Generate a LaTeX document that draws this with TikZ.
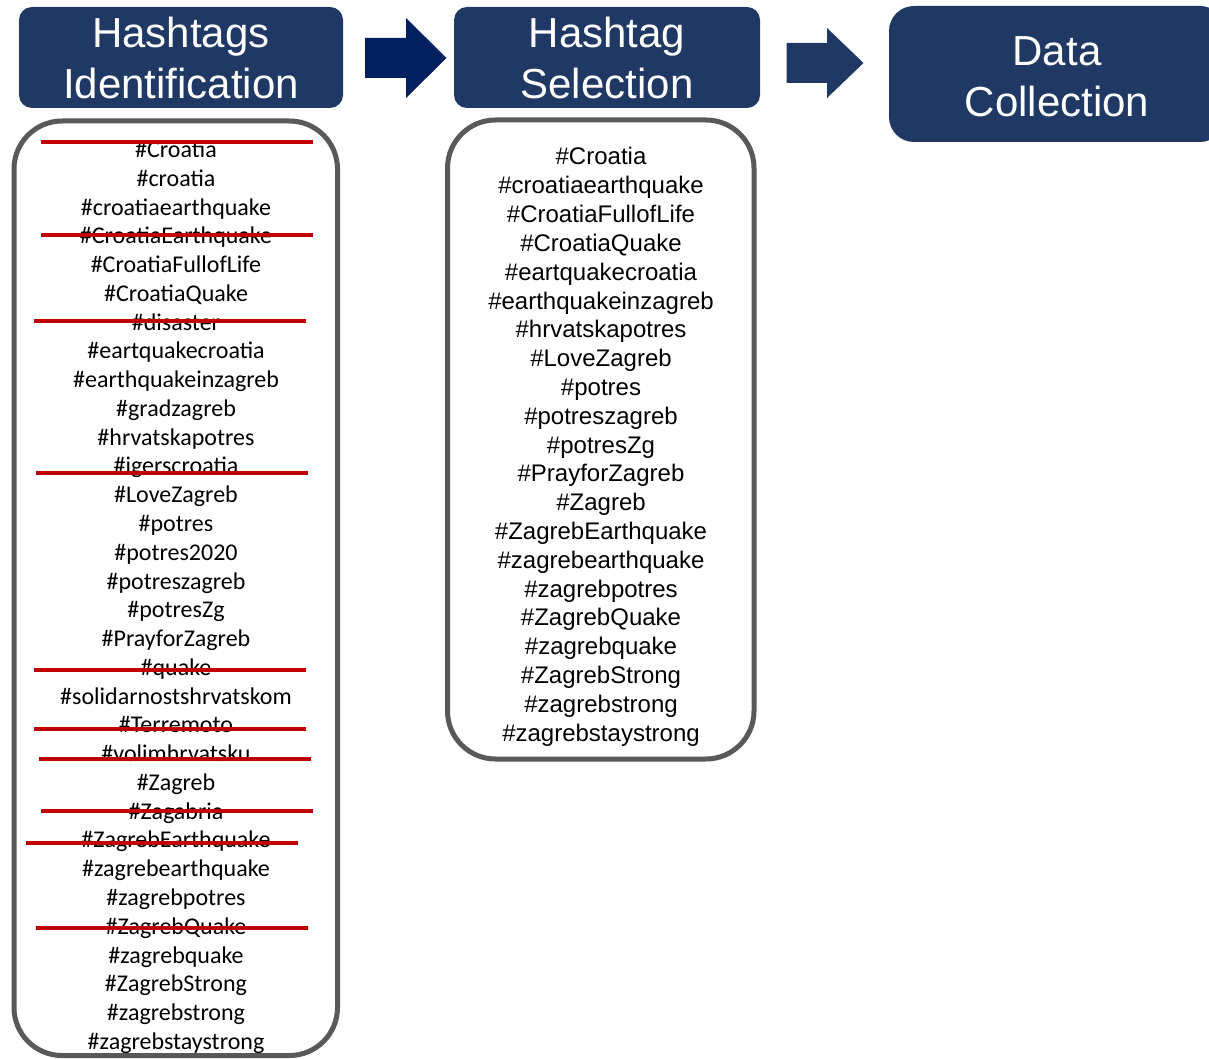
\documentclass[tikz,border=0pt]{standalone}
\usepackage{fontspec}
\newfontfamily\arialf{Liberation Sans}
\newfontfamily\calibrif{Carlito}
\definecolor{hdrblue}{HTML}{203864}
\definecolor{arrowdark}{HTML}{002060}
\definecolor{boxgray}{HTML}{595959}
\definecolor{strikered}{HTML}{C00000}
\begin{document}
\begin{tikzpicture}[x=1pt,y=-1pt,
  header/.style={fill=hdrblue, text=white, font=\arialf\fontsize{42}{51}\selectfont, align=center, inner sep=0pt, rounded corners=13pt},
  headtext/.style={text=white, font=\arialf\fontsize{42}{51}\selectfont, align=center, inner sep=0pt},
  listbox/.style={draw=boxgray, line width=5pt, rounded corners=48pt, inner sep=0pt},
  tagA/.style={font=\calibrif\fontsize{24}{29}\selectfont, anchor=base, inner sep=0pt},
  tagB/.style={font=\arialf\fontsize{24}{29}\selectfont, anchor=base, inner sep=0pt},
  strike/.style={draw=strikered, line width=4pt}]
\useasboundingbox (0,0) rectangle (1209,1059);
\clip (0,0) rectangle (1209,1059);
\fill[white] (0,0) rectangle (1209,1059);

% header boxes
\node[header, minimum width=324pt, minimum height=101pt] (h1) at (181,57.5) {Hashtags\\Identification};
\node[header, minimum width=306pt, minimum height=101pt] (h2) at (607,57.5) {Hashtag\\Selection};
\node[header, rounded corners=25pt, minimum width=336pt, minimum height=136pt] (h3) at (1057,74) {};
\node[headtext] (h3t) at (1057,76.5) {Data\\Collection};

% block arrows
\fill[arrowdark] (365,38) -- (406,38) -- (406,18) -- (446.5,58) -- (406,98) -- (406,78) -- (365,78) -- cycle;
\fill[hdrblue] (786.5,43) -- (827,43) -- (827,28) -- (863.5,63) -- (827,98) -- (827,83) -- (786.5,83) -- cycle;

% list boxes
\node[listbox, minimum width=323.5pt, minimum height=934.5pt] (b1) at (175.75,588.25) {};
\node[listbox, minimum width=306.5pt, minimum height=639pt] (b2) at (600.75,439.5) {};

% list 1
\foreach \t [count=\i] in {\#Croatia,\#croatia,\#croatiaearthquake,\#CroatiaEarthquake,\#CroatiaFullofLife,\#CroatiaQuake,\#disaster,\#eartquakecroatia,\#earthquakeinzagreb,\#gradzagreb,\#hrvatskapotres,\#igerscroatia,\#LoveZagreb,\#potres,\#potres2020,\#potreszagreb,\#potresZg,\#PrayforZagreb,\#quake,\#solidarnostshrvatskom,\#Terremoto,\#volimhrvatsku,\#Zagreb,\#Zagabria,\#ZagrebEarthquake,\#zagrebearthquake,\#zagrebpotres,\#ZagrebQuake,\#zagrebquake,\#ZagrebStrong,\#zagrebstrong,\#zagrebstaystrong}
  \node[tagA] (a\i) at (176,{157.5+(\i-1)*28.77}) {\t};

% list 2
\foreach \t [count=\i] in {\#Croatia,\#croatiaearthquake,\#CroatiaFullofLife,\#CroatiaQuake,\#eartquakecroatia,\#earthquakeinzagreb,\#hrvatskapotres,\#LoveZagreb,\#potres,\#potreszagreb,\#potresZg,\#PrayforZagreb,\#Zagreb,\#ZagrebEarthquake,\#zagrebearthquake,\#zagrebpotres,\#ZagrebQuake,\#zagrebquake,\#ZagrebStrong,\#zagrebstrong,\#zagrebstaystrong}
  \node[tagB] (s\i) at (601,{165+(\i-1)*28.8}) {\t};

% strike-through lines
\foreach \xa/\xb/\yy in {40.5/313/142, 41/313/235.5, 33.5/305.5/320.5, 36/308/473, 33.5/305.5/670, 33.5/305.5/729, 39/310.5/758.5, 41/313/810.5, 26/298/842.5, 36/308/928}
  \draw[strike] (\xa,\yy) -- (\xb,\yy);
\end{tikzpicture}
\end{document}
